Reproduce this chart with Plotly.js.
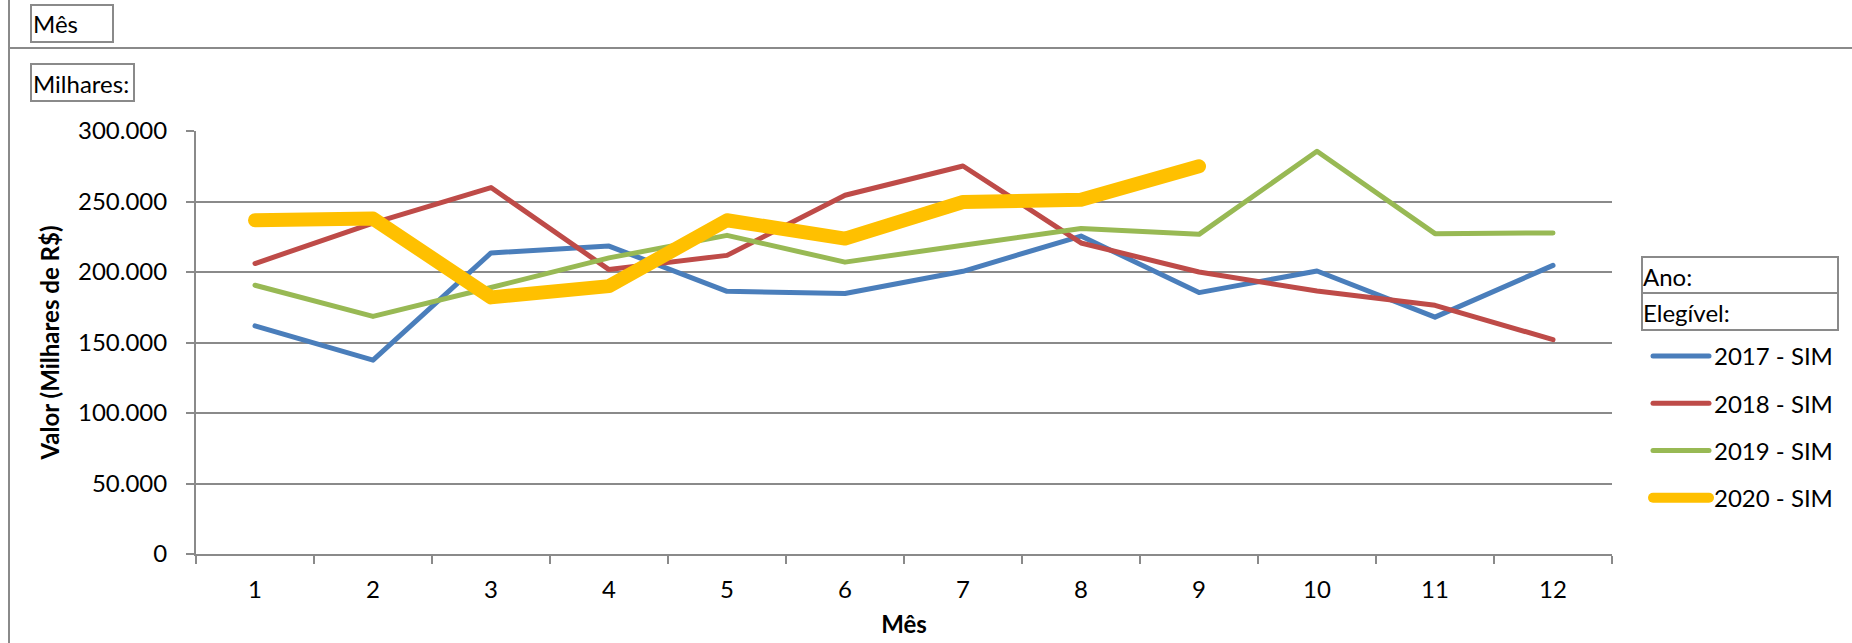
<!DOCTYPE html>
<html>
<head>
<meta charset="utf-8">
<script src="https://cdn.plot.ly/plotly-3.0.1.min.js"></script>
<style>
html, body { margin: 0; padding: 0; background: #fff; }
#chart { width: 1852px; height: 643px; }
.scatterlayer path.js-line, .legendlines path { stroke-linecap: round; stroke-linejoin: round; }
</style>
</head>
<body>
<div id="chart"></div>
<script>
// ---- data ----
const months = ['1','2','3','4','5','6','7','8','9','10','11','12'];
const seriesNames = ['2017 - SIM', '2018 - SIM', '2019 - SIM', '2020 - SIM'];
const v2017 = [161800, 137500, 213500, 218400, 186300, 184700, 200500, 225500, 185400, 200700, 168000, 204700];
const v2018 = [206000, 234700, 259900, 201700, 211800, 254400, 275200, 220600, 200000, 186500, 176400, 152000];
const v2019 = [190600, 168500, 189000, 210000, 226000, 207000, 219000, 230800, 226700, 285600, 227200, 227700];
const v2020 = [236700, 237900, 182000, 190000, 236700, 223700, 249600, 251300, 275000];
const yTicks = [0, 50000, 100000, 150000, 200000, 250000, 300000];

// ---- layout geometry (px) ----
const W = 1852, H = 643;
const L = 196, R = 1612, T = 131, B = 554;
const px = x => (x - L) / (R - L);
const py = y => (B - y) / (B - T);

const FONT = 'Lato, "Open Sans", sans-serif';
const FS = 24;
const GRAY = '#8a8a8a';
const colors = ['#4A7EBB', '#BE4B48', '#98B954', '#FFC000'];
const widths = [5, 5, 5, 14];
const values = [v2017, v2018, v2019, v2020];

const traces = values.map((v, i) => ({
  type: 'scatter', mode: 'lines',
  x: months.slice(0, v.length), y: v,
  name: seriesNames[i],
  legendgroup: 'g' + i,
  line: { color: colors[i], width: widths[i] },
  hoverinfo: 'x+y+name'
}));

const shapes = [
  // outer frame lines
  { type: 'line', xref: 'paper', yref: 'paper', x0: px(9), x1: px(9), y0: py(0), y1: py(H), line: { color: GRAY, width: 2 } },
  { type: 'line', xref: 'paper', yref: 'paper', x0: px(9), x1: px(W), y0: py(48), y1: py(48), line: { color: GRAY, width: 2 } },
  // label boxes
  { type: 'rect', xref: 'paper', yref: 'paper', x0: px(31), x1: px(113), y0: py(5), y1: py(42), line: { color: GRAY, width: 2 } },
  { type: 'rect', xref: 'paper', yref: 'paper', x0: px(31), x1: px(134), y0: py(64), y1: py(101), line: { color: GRAY, width: 2 } },
  { type: 'rect', xref: 'paper', yref: 'paper', x0: px(1642), x1: px(1838), y0: py(257), y1: py(293), line: { color: GRAY, width: 2 } },
  { type: 'rect', xref: 'paper', yref: 'paper', x0: px(1642), x1: px(1838), y0: py(293), y1: py(330), line: { color: GRAY, width: 2 } }
];

const txt = (t, x, y) => ({
  text: t, xref: 'paper', yref: 'paper', x: px(x), y: py(y),
  xanchor: 'left', yanchor: 'middle', showarrow: false,
  font: { family: FONT, size: FS, color: '#000' }
});

const annotations = [
  txt('Mês', 31, 24),
  txt('Milhares:', 31, 83),
  txt('Ano:', 1641, 276),
  txt('Elegível:', 1641, 312)
];

const layout = {
  width: W, height: H,
  margin: { l: L, r: W - R, t: T, b: H - B, pad: 0 },
  paper_bgcolor: '#fff', plot_bgcolor: '#fff',
  font: { family: FONT, size: FS, color: '#000' },
  separators: ',.',
  showlegend: true,
  legend: {
    x: px(1648), y: py(334), xanchor: 'left', yanchor: 'top',
    font: { family: FONT, size: FS, color: '#000' },
    traceorder: 'grouped', tracegroupgap: 13,
    itemwidth: 56, bgcolor: 'rgba(0,0,0,0)'
  },
  xaxis: {
    type: 'category', range: [-0.5, 11.5],
    showgrid: false, zeroline: false,
    showline: true, linecolor: GRAY, linewidth: 2,
    ticks: 'outside', tickson: 'boundaries', ticklen: 8, tickcolor: GRAY, tickwidth: 1.5,
    ticklabelstandoff: 13,
    tickfont: { family: FONT, size: FS, color: '#000' },
    title: { text: '<b>Mês</b>', font: { family: FONT, size: FS, color: '#000' }, standoff: 14 },
    fixedrange: true
  },
  yaxis: {
    range: [0, 300000], tickvals: yTicks, tickformat: ',d',
    showgrid: true, gridcolor: GRAY, gridwidth: 2,
    zeroline: false,
    showline: true, linecolor: GRAY, linewidth: 2,
    ticks: 'outside', ticklen: 8, tickcolor: GRAY, tickwidth: 2,
    ticklabelstandoff: 14,
    tickfont: { family: FONT, size: FS, color: '#000' },
    title: { text: '<b>Valor (Milhares de R$)</b>', font: { family: FONT, size: FS, color: '#000' }, standoff: 12 },
    fixedrange: true
  },
  shapes: shapes,
  annotations: annotations
};

Plotly.newPlot('chart', traces, layout, { displayModeBar: false, staticPlot: false });
</script>
</body>
</html>
